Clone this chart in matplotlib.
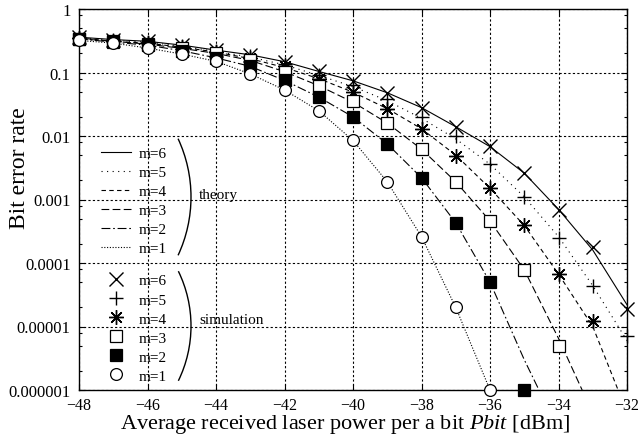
import matplotlib
matplotlib.use('Agg')
import matplotlib.pyplot as plt
from matplotlib.patches import Arc
from matplotlib.ticker import LogLocator, FixedLocator, FixedFormatter, NullFormatter

# Times 風のフォント
plt.rcParams['font.family'] = ['Liberation Serif', 'DejaVu Serif']
plt.rcParams['mathtext.fontset'] = 'custom'
plt.rcParams['mathtext.rm'] = 'Liberation Serif'
plt.rcParams['mathtext.it'] = 'Liberation Serif:italic'

# シミュレーション結果
power = [-48, -47, -46, -45, -44, -43, -42, -41, -40, -39, -38, -37, -36, -35, -34, -33, -32]
sim_m6 = [0.36, 0.33, 0.31, 0.27, 0.225, 0.19, 0.148, 0.104, 0.074, 0.048, 0.028, 0.014, 0.0070, 0.0026, 6.8e-4, 1.8e-4, 1.9e-5]
sim_m5 = [0.35, 0.32, 0.30, 0.26, 0.215, 0.18, 0.135, 0.09, 0.063, 0.038, 0.020, 0.0100, 0.0036, 0.0011, 2.5e-4, 4.4e-5, 7e-6]
sim_m4 = [0.35, 0.31, 0.29, 0.25, 0.21, 0.17, 0.125, 0.08, 0.049, 0.027, 0.013, 0.0048, 0.0015, 3.9e-4, 6.7e-5, 1.2e-5]
sim_m3 = [0.34, 0.31, 0.28, 0.24, 0.20, 0.16, 0.103, 0.062, 0.035, 0.016, 0.0062, 0.0019, 4.6e-4, 7.8e-5, 4.9e-6]
sim_m2 = [0.34, 0.30, 0.27, 0.22, 0.17, 0.128, 0.075, 0.041, 0.020, 0.0075, 0.0022, 4.3e-4, 5e-5, 1e-6]
sim_m1 = [0.32, 0.29, 0.243, 0.195, 0.15, 0.095, 0.053, 0.025, 0.0085, 0.0019, 2.6e-4, 2e-5, 1e-6]

# 理論値
th_p_m6 = power
th_m6 = [0.36, 0.33, 0.31, 0.27, 0.225, 0.19, 0.148, 0.104, 0.074, 0.048, 0.028, 0.014, 0.0068, 0.0026, 7.0e-4, 1.6e-4, 2.2e-5]
th_p_m5 = power
th_m5 = [0.35, 0.32, 0.30, 0.26, 0.215, 0.175, 0.132, 0.09, 0.060, 0.036, 0.019, 0.0090, 0.0036, 0.0011, 2.6e-4, 4.4e-5, 6e-6]
th_p_m4 = power[:16] + [-32.26]
th_m4 = [0.35, 0.31, 0.29, 0.25, 0.21, 0.165, 0.12, 0.08, 0.049, 0.027, 0.013, 0.0050, 0.0015, 3.9e-4, 6.7e-5, 1.0e-5, 1e-6]
th_p_m3 = power[:15] + [-33.31]
th_m3 = [0.34, 0.31, 0.28, 0.24, 0.20, 0.155, 0.103, 0.062, 0.034, 0.016, 0.0062, 0.0019, 4.6e-4, 7.8e-5, 6.5e-6, 1e-6]
th_p_m2 = power[:14] + [-34.57]
th_m2 = [0.34, 0.30, 0.27, 0.22, 0.17, 0.125, 0.075, 0.041, 0.020, 0.0075, 0.0022, 4.3e-4, 5e-5, 3e-6, 1e-6]
th_p_m1 = power[:13]
th_m1 = [0.32, 0.29, 0.243, 0.195, 0.15, 0.095, 0.053, 0.025, 0.0085, 0.0019, 2.6e-4, 2e-5, 1e-6]

labels = ['m=6', 'm=5', 'm=4', 'm=3', 'm=2', 'm=1']
ytick_vals = [1e-6, 1e-5, 1e-4, 1e-3, 1e-2, 1e-1, 1]
ytick_labels = ['0.000001', '0.00001', '0.0001', '0.001', '0.01', '0.1', '1']

fig = plt.figure(figsize=(6.39, 4.35), dpi=100)
ax = fig.add_axes([79 / 639, 1 - 391 / 435, 548 / 639, 381 / 435])

lw = 0.8
theory = [
    (th_p_m6, th_m6, '-'),
    (th_p_m5, th_m5, (0, (1, 4))),
    (th_p_m4, th_m4, (0, (4, 3))),
    (th_p_m3, th_m3, (0, (7, 3))),
    (th_p_m2, th_m2, (0, (8, 2.5, 1.5, 2.5))),
    (th_p_m1, th_m1, (0, (1, 1.5))),
]
th_handles = []
for (px, py, ls), lab in zip(theory, labels):
    h, = ax.plot(px, py, color='black', lw=lw, linestyle=ls, label=lab)
    th_handles.append(h)

ms = 8.5
sims = [
    (sim_m6, dict(marker='x', markersize=9.5, mew=1.0, color='black')),
    (sim_m5, dict(marker='+', markersize=10.5, mew=1.0, color='black')),
    (sim_m4, dict(marker=(8, 2, 0), markersize=10.5, mew=1.0, color='black')),
    (sim_m3, dict(marker='s', markersize=ms, mew=0.9, mfc='white', mec='black')),
    (sim_m2, dict(marker='s', markersize=ms, mew=0.9, mfc='black', mec='black')),
    (sim_m1, dict(marker='o', markersize=ms, mew=0.9, mfc='white', mec='black')),
]
sim_handles = []
for (vals, kw), lab in zip(sims, labels):
    h, = ax.plot(power[:len(vals)], vals, linestyle='none', clip_on=False, zorder=5, label=lab, **kw)
    sim_handles.append(h)

ax.set_yscale('log')
ax.set_xlim(-48, -32)
ax.set_ylim(1e-6, 1)
ax.set_xticks(range(-48, -31, 2))
ax.yaxis.set_major_locator(FixedLocator(ytick_vals))
ax.yaxis.set_major_formatter(FixedFormatter(ytick_labels))
ax.yaxis.set_minor_locator(LogLocator(base=10, subs=(2, 5, 8)))
ax.yaxis.set_minor_formatter(NullFormatter())
ax.tick_params(which='both', direction='in', top=True, right=True, colors='black')
ax.tick_params(which='major', length=4, width=0.8)
ax.tick_params(which='minor', length=2.5, width=0.8)
ax.tick_params(axis='x', pad=5, labelsize=11.5)
ax.tick_params(axis='y', pad=6, labelsize=12)
for sp in ax.spines.values():
    sp.set_linewidth(1.0)

ax.grid(True, which='major', color='black', linestyle=(0, (2, 2)), linewidth=0.8)

ax.set_xlabel(r'Average received laser power per a bit $\mathit{Pbit}$ [dBm]', fontsize=16)
ax.xaxis.set_label_coords(0.485, -0.058)
ax.xaxis.label.set_va('top')
ax.set_ylabel('Bit error rate', fontsize=17)
ax.yaxis.set_label_coords(-0.108, 0.585)
ax.yaxis.label.set_va('center')

leg1 = ax.legend(handles=th_handles, loc='upper left', bbox_to_anchor=(0.04, 0.640),
                 frameon=False, fontsize=11, handlelength=2.0, handletextpad=0.5,
                 labelspacing=0.35, borderpad=0, borderaxespad=0)
ax.add_artist(leg1)
ax.legend(handles=sim_handles, loc='upper left', bbox_to_anchor=(0.04, 0.305),
          frameon=False, fontsize=11, handlelength=2.0, handletextpad=0.5,
          labelspacing=0.35, borderpad=0, borderaxespad=0)

# 括弧
fig.add_artist(Arc((0.53, (435 - 198) / 100), 2.76, 2.76, theta1=-25, theta2=25,
                   transform=fig.dpi_scale_trans, color='black', lw=1.0))
fig.add_artist(Arc((0.66, (435 - 327) / 100), 2.5, 2.5, theta1=-26, theta2=26,
                   transform=fig.dpi_scale_trans, color='black', lw=1.0))
fig.text(199 / 639, 1 - 196 / 435, 'theory', fontsize=11, va='center', ha='left')
fig.text(199 / 639, 1 - 321 / 435, 'simulation', fontsize=11, va='center', ha='left')

fig.savefig('out.png', dpi=100)
